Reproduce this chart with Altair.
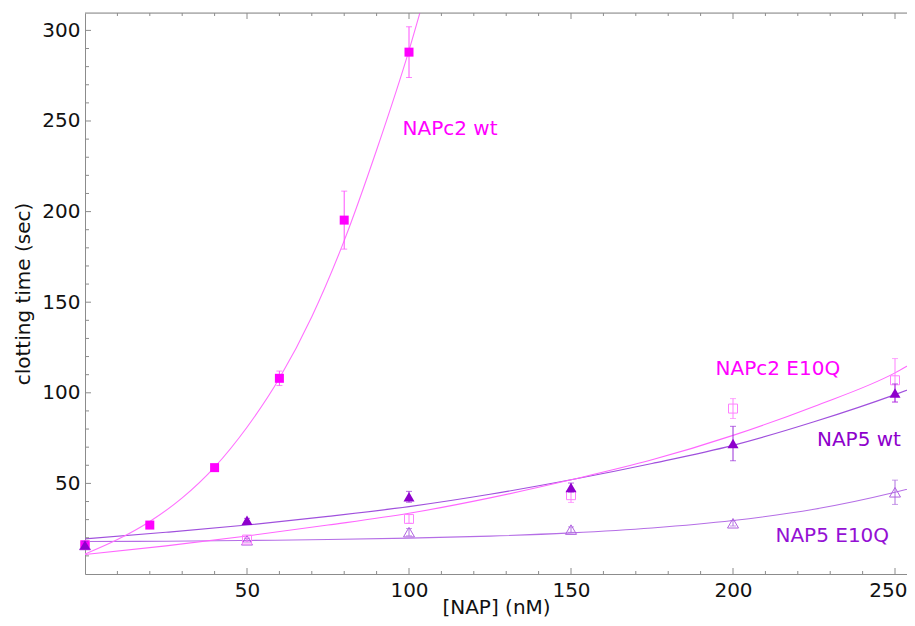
import altair as alt
import pandas as pd

# ---------------- data ----------------
# measured points (x in nM, y = clotting time in sec, err = half error bar)
x_napc2_wt = [0, 20, 40, 60, 80, 100]
y_napc2_wt = [16, 27, 58.7, 108, 195.3, 288]
e_napc2_wt = [1.5, 1, 1.5, 4, 16, 14]

x_mut = [0, 50, 100, 150, 200, 250]
y_napc2_e10q = [16, 19, 30.4, 43.5, 91.3, 106.9]
e_napc2_e10q = [1.5, 1, 2.4, 4, 5.5, 12]
y_nap5_wt = [16, 29.7, 42.6, 47.7, 72, 99.9]
e_nap5_wt = [2, 1, 3, 2.5, 9.5, 5]
y_nap5_e10q = [16, 18.6, 23.1, 24.5, 28, 45.1]
e_nap5_e10q = [1.5, 1, 2, 1.5, 1.5, 6.7]

# fitted curves
fx_napc2_wt = [0, 10, 20, 30, 40, 50, 60, 70, 80, 90, 100, 105]
fy_napc2_wt = [11, 19, 29, 42, 59, 81, 108, 142, 184, 234, 289, 320]
fx = [0, 25, 50, 75, 100, 125, 150, 175, 200, 225, 250, 256]
fy_napc2_e10q = [10.8, 15.5, 21, 27, 33.5, 42, 52, 63, 76.5, 92.5, 111, 117]
fy_nap5_wt = [19.4, 23, 27, 31.8, 37.2, 44, 52, 61, 71, 84, 99, 103]
fy_nap5_e10q = [17.9, 18.1, 18.5, 19.0, 19.8, 20.9, 22.7, 25.4, 29.5, 35.7, 45.1, 47.8]

# annotations
labels = ["NAPc2 wt", "NAPc2 E10Q", "NAP5 wt", "NAP5 E10Q"]
label_x = [98.0, 194.6, 225.9, 213.1]
label_y = [242.4, 110.0, 70.9, 17.5]
label_color = ["#FF00FF", "#FF00FF", "#8E00CC", "#9410D4"]

x_major = [50, 100, 150, 200, 250]
y_major = [50, 100, 150, 200, 250, 300]
x_minor = [v for v in range(10, 254, 10) if v % 50 != 0]
y_minor = [v for v in range(10, 310, 10) if v % 50 != 0]

# ---------------- chart ----------------
W, H = 822, 561
FONT = "DejaVu Sans"
xscale = alt.Scale(domain=[0, 253.7], nice=False, zero=False)
yscale = alt.Scale(domain=[0, 309.6], nice=False, zero=False)
AX = "#8c8c8c"

xaxis = alt.Axis(values=x_major, ticks=False, grid=False, domainColor=AX,
                 labelFont=FONT, labelFontSize=20, labelColor="#111",
                 labelPadding=6, labelFlush=15, labelFlushOffset=12,
                 title="[NAP] (nM)", titleFont=FONT,
                 titleFontSize=20, titleFontWeight="normal", titleColor="#111",
                 titlePadding=-3)
yaxis = alt.Axis(values=y_major, ticks=False, grid=False, domainColor=AX,
                 labelFont=FONT, labelFontSize=20, labelColor="#111",
                 labelPadding=5, title="clotting time (sec)", titleFont=FONT,
                 titleFontSize=20, titleFontWeight="normal", titleColor="#111",
                 titlePadding=8)


def X(field):
    return alt.X(field, scale=xscale, axis=xaxis)


def Y(field):
    return alt.Y(field, scale=yscale, axis=yaxis)


layers = []

# curves
curves = [
    (fx, fy_nap5_e10q, "#B56EE6"),
    (fx, fy_nap5_wt, "#A050DD"),
    (fx, fy_napc2_e10q, "#FF66FF"),
    (fx_napc2_wt, fy_napc2_wt, "#FF70FF"),
]
for xs, ys, col in curves:
    df = pd.DataFrame({"x": xs, "y": ys})
    layers.append(alt.Chart(df).mark_line(color=col, strokeWidth=1.1, clip=True,
                                          interpolate="monotone")
                  .encode(x=X("x:Q"), y=Y("y:Q")))

# points with error bars
series = [
    (x_mut, y_nap5_e10q, e_nap5_e10q, "triangle-up", False, "#B060E0", "#B070E0", 121),
    (x_mut, y_napc2_e10q, e_napc2_e10q, "square", False, "#FF80FF", "#FF80FF", 81),
    (x_napc2_wt, y_napc2_wt, e_napc2_wt, "square", True, "#FF00FF", "#FF50FF", 81),
    (x_mut, y_nap5_wt, e_nap5_wt, "triangle-up", True, "#8E00CC", "#9A30D8", 121),
]
for xs, ys, es, shape, filled, col, ecol, size in series:
    df = pd.DataFrame({"x": xs, "y": ys, "e": es})
    df["lo"] = df["y"] - df["e"]
    df["hi"] = df["y"] + df["e"]
    base = alt.Chart(df)
    layers.append(base.mark_rule(color=ecol, strokeWidth=1).encode(
        x=X("x:Q"), y=Y("lo:Q"), y2="hi:Q"))
    for end in ["lo", "hi"]:
        layers.append(base.mark_tick(color=ecol, orient="horizontal", size=6,
                                     thickness=1).encode(x=X("x:Q"), y=Y(f"{end}:Q")))
    if filled:
        mk = base.mark_point(shape=shape, filled=True, fill=col, color=col,
                             size=size, opacity=1, strokeWidth=0)
    else:
        mk = base.mark_point(shape=shape, filled=False, stroke=col,
                             size=size, opacity=1, strokeWidth=1)
    layers.append(mk.encode(x=X("x:Q"), y=Y("y:Q")))

# text annotations
lab = pd.DataFrame({"t": labels, "x": label_x, "y": label_y, "c": label_color})
layers.append(alt.Chart(lab).mark_text(align="left", baseline="alphabetic",
                                       font=FONT, fontSize=20).encode(
    x=X("x:Q"), y=Y("y:Q"), text="t:N", color=alt.Color("c:N", scale=None)))


# inward ticks + top frame line
def yticks(vals, length):
    return alt.Chart(pd.DataFrame({"v": vals})).mark_rule(color=AX, strokeWidth=1).encode(
        y=Y("v:Q"), x=alt.value(0), x2=alt.value(length))


def xticks(vals, y0, y1):
    return alt.Chart(pd.DataFrame({"v": vals})).mark_rule(color=AX, strokeWidth=1).encode(
        x=X("v:Q"), y=alt.value(y0), y2=alt.value(y1))


layers += [yticks(y_major, 6), yticks(y_minor, 4),
           xticks(x_major, H, H - 6), xticks(x_minor, H, H - 3),
           xticks(x_major, 0, 6), xticks(x_minor, 0, 3)]
layers.append(alt.Chart(pd.DataFrame({"v": [0]})).mark_rule(color=AX, strokeWidth=1).encode(
    x=alt.value(0), x2=alt.value(W), y=alt.value(0)))

chart = alt.layer(*layers).properties(
    width=W, height=H,
    autosize=alt.AutoSizeParams(type="none"),
    padding={"left": 77, "top": 5, "right": 0, "bottom": 44},
).configure_view(stroke=None).configure(background="white")

chart.save("out.html", embed_options={"renderer": "svg", "actions": False})
